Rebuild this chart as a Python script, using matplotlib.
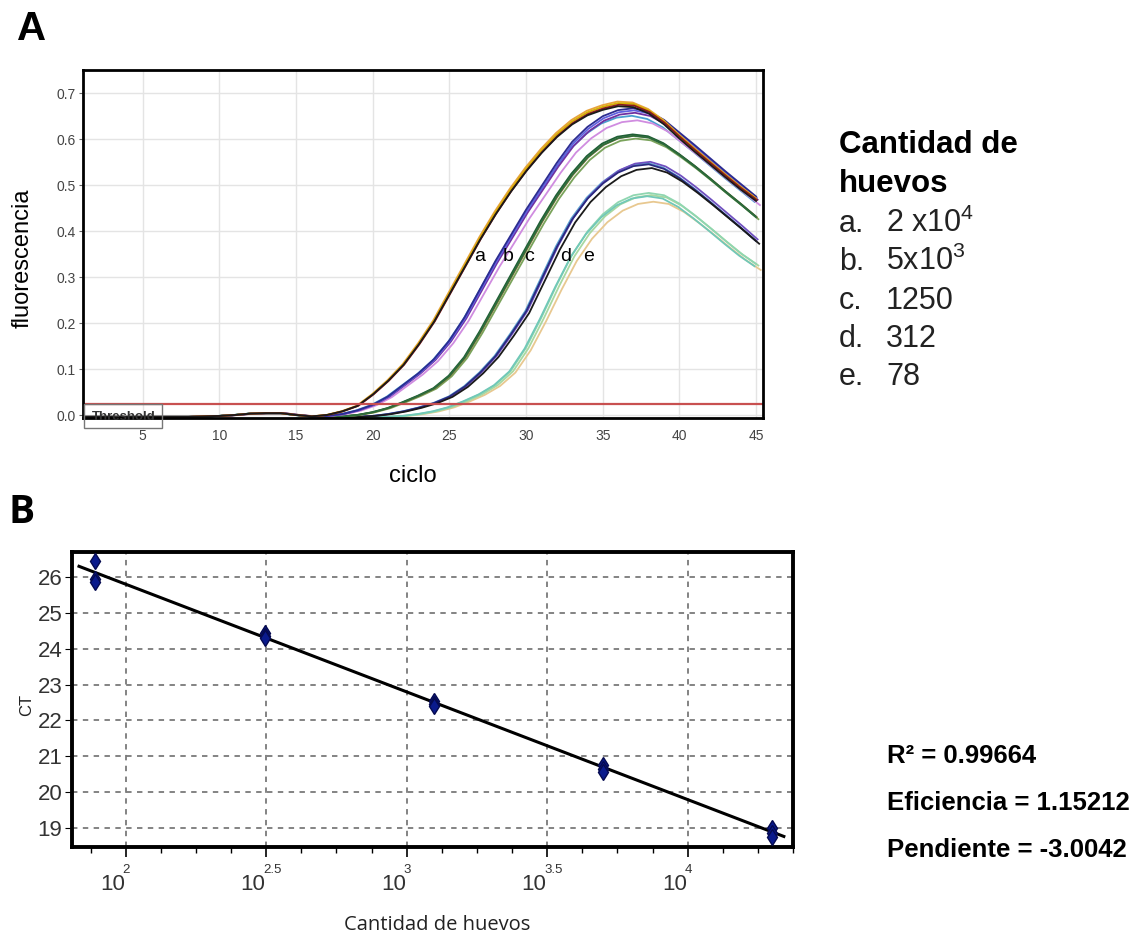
import numpy as np
import matplotlib
matplotlib.use("Agg")
import matplotlib.pyplot as plt
from matplotlib import transforms
from matplotlib.patches import Rectangle

plt.rcParams['font.family'] = ['Liberation Sans', 'DejaVu Sans']
plt.rcParams['mathtext.fontset'] = 'custom'
plt.rcParams['mathtext.rm'] = 'Liberation Sans'

W, H = 1140, 938

# ---- panel A: amplification curves (fluorescence per cycle) ----
cycles = np.arange(1, 46)
baseline = [-0.004, -0.004, -0.004, -0.004, -0.004, -0.004, -0.004, -0.004,
            -0.003, -0.002, 0.0, 0.003, 0.004, 0.004, 0.0, -0.003]
tail_a = [0.0, 0.008, 0.02, 0.045, 0.075, 0.11, 0.155, 0.205, 0.265, 0.325,
          0.385, 0.44, 0.49, 0.535, 0.575, 0.61, 0.638, 0.658, 0.67, 0.678,
          0.676, 0.662, 0.638, 0.607, 0.578, 0.55, 0.522, 0.495, 0.47]
tail_b = [-0.002, 0.002, 0.01, 0.022, 0.04, 0.065, 0.09, 0.12, 0.16, 0.21,
          0.27, 0.33, 0.385, 0.44, 0.49, 0.54, 0.585, 0.617, 0.64, 0.653,
          0.657, 0.65, 0.632, 0.605, 0.578, 0.55, 0.522, 0.495, 0.468]
tail_c = [-0.004, -0.003, 0.0, 0.006, 0.015, 0.028, 0.042, 0.058, 0.085, 0.125,
          0.18, 0.24, 0.3, 0.36, 0.42, 0.475, 0.522, 0.56, 0.587, 0.602,
          0.607, 0.603, 0.588, 0.565, 0.54, 0.513, 0.485, 0.458, 0.43]
tail_d = [-0.005, -0.005, -0.004, -0.002, 0.002, 0.008, 0.016, 0.026, 0.04, 0.062,
          0.092, 0.128, 0.175, 0.225, 0.295, 0.365, 0.425, 0.47, 0.503, 0.527,
          0.541, 0.545, 0.535, 0.515, 0.49, 0.463, 0.435, 0.407, 0.378]
tail_e = [-0.006, -0.006, -0.005, -0.005, -0.004, -0.002, 0.002, 0.008, 0.017, 0.03,
          0.045, 0.065, 0.095, 0.145, 0.21, 0.28, 0.345, 0.395, 0.432, 0.458,
          0.473, 0.478, 0.473, 0.455, 0.43, 0.403, 0.375, 0.348, 0.325]

# replicate colours, amplitude factors and small cycle offsets per dilution
reps_a = [('#e8a33d', 1.005, -0.05), ('#d4b000', 1.0, 0.0), ('#8b1a1a', 0.995, 0.05), ('#1a1a1a', 0.99, 0.0)]
reps_b = [('#4aa0d0', 0.99, -0.1), ('#d08ce0', 0.975, 0.25), ('#7030a0', 1.0, 0.1),
          ('#6060e0', 1.008, 0.05), ('#2c2c90', 1.015, 0.0)]
reps_c = [('#7aa35b', 0.99, 0.15), ('#8a7a3a', 1.0, 0.05), ('#1f5f35', 1.005, -0.05), ('#2d6b3c', 1.0, 0.0)]
reps_d = [('#5aa0d0', 1.005, -0.05), ('#7050c0', 1.01, 0.1), ('#2a2a80', 1.0, 0.0), ('#1a1a1a', 0.985, 0.2)]
reps_e = [('#e8c890', 0.97, 0.3), ('#a8d8a0', 1.0, 0.15), ('#8fd6b0', 1.01, 0.0), ('#70c8b8', 0.995, -0.1)]
threshold = 0.024
curve_labels = ['a', 'b', 'c', 'd', 'e']
label_x = [27.0, 28.8, 30.2, 32.6, 34.1]

legend_title = ['Cantidad de', 'huevos']
legend_items = ['2 x10$^{4}$', '5x10$^{3}$', '1250', '312', '78']

# ---- panel B: standard curve ----
huevos = [78, 312, 1250, 5000, 20000]
ct_values = [[26.45, 25.95, 25.85],
             [24.45, 24.35, 24.3],
             [22.55, 22.45, 22.4],
             [20.75, 20.65, 20.55],
             [19.0, 18.85, 18.75]]
slope = -3.0042
intercept = 31.81
fit_range = [68.2, 22000]
stats_text = ['R² = 0.99664', 'Eficiencia = 1.15212', 'Pendiente = -3.0042']
exp_ticks = [2, 2.5, 3, 3.5, 4]
exp_labels = ['2', '2.5', '3', '3.5', '4']

fig = plt.figure(figsize=(W / 100, H / 100), dpi=100)


def fx(px):
    return px / W


def fy(py):
    return 1 - py / H


# ================= panel A =================
ax = fig.add_axes([fx(83), fy(418), fx(763) - fx(83), fy(70) - fy(418)])
for tail, reps in [(tail_e, reps_e), (tail_d, reps_d), (tail_c, reps_c),
                   (tail_b, reps_b), (tail_a, reps_a)]:
    vals = np.array(baseline + tail)
    for col, amp, dx in reps:
        y = np.where(vals > 0, vals * amp, vals)
        ax.plot(cycles + dx, y, color=col, lw=1.3)
ax.axhline(threshold, color='#c85050', lw=1.6)

ax.set_xlim(1.1, 45.45)
ax.set_ylim(-0.0065, 0.75)
ax.set_xticks([5, 10, 15, 20, 25, 30, 35, 40, 45])
ax.set_yticks([0.0, 0.1, 0.2, 0.3, 0.4, 0.5, 0.6, 0.7])
ax.set_yticklabels(['0.0', '0.1', '0.2', '0.3', '0.4', '0.5', '0.6', '0.7'])
ax.grid(True, color='#e4e4e4', lw=1)
ax.set_axisbelow(True)
ax.tick_params(axis='x', length=0, pad=8, labelsize=10, labelcolor='#444444')
ax.tick_params(axis='y', length=3, pad=2, labelsize=10, labelcolor='#444444', color='#666666')
for s in ax.spines.values():
    s.set_linewidth(2)
    s.set_color('black')

# threshold box
ax.add_patch(Rectangle((1.15, -0.028), 5.1, 0.052, fill=False, ec='#777777', lw=1,
                       clip_on=False, zorder=5))
ax.text(3.75, -0.0035, 'Threshold', ha='center', va='center', fontsize=9.5,
        fontweight='bold', color='#333333', zorder=10, clip_on=False)

for lab, xl in zip(curve_labels, label_x):
    ax.text(xl, 0.345, lab, ha='center', va='center', fontsize=14, color='black')

fig.text(fx(17), fy(40), 'A', fontsize=29, fontweight='bold', va='baseline', ha='left')
fig.text(fx(23), fy(258), 'fluorescencia', rotation=90, fontsize=17, ha='center', va='center')
fig.text(fx(413), fy(482), 'ciclo', fontsize=17, ha='center', va='baseline')

fig.text(fx(839), fy(153), legend_title[0], fontsize=22.5, fontweight='bold', va='baseline')
fig.text(fx(839), fy(192), legend_title[1], fontsize=22.5, fontweight='bold', va='baseline')
for i, (lab, item) in enumerate(zip(curve_labels, legend_items)):
    yb = 232 + i * 38.3
    fig.text(fx(839), fy(yb), lab + '.', fontsize=22, va='baseline', color='#222222')
    fig.text(fx(886), fy(yb), item, fontsize=22, va='baseline', color='#222222')

# ================= panel B =================
ax2 = fig.add_axes([fx(72), fy(847), fx(793) - fx(72), fy(552) - fy(847)])
ax2.set_xscale('log')
xf = np.array(fit_range)
ax2.plot(xf, slope * np.log10(xf) + intercept, color='black', lw=2.2, zorder=3)
for h, cts in zip(huevos, ct_values):
    ax2.plot([h] * len(cts), cts, linestyle='none', marker='d', ms=8,
             mfc='#0a1a8c', mec='#050a50', mew=1, zorder=4)

ax2.set_xlim(64.4, 23190)
ax2.set_ylim(18.47, 26.7)
ax2.set_yticks([19, 20, 21, 22, 23, 24, 25, 26])
ax2.set_xticks([10 ** e for e in exp_ticks])
ax2.set_xticklabels([])
minor = [10 ** (k / 8) for k in range(15, 36) if k % 4 != 0]
ax2.set_xticks(minor, minor=True)
ax2.xaxis.set_minor_formatter(plt.NullFormatter())
ax2.grid(True, which='major', color='#7a7a7a', lw=1.3, linestyle=(0, (3, 3)))
ax2.tick_params(axis='x', which='major', length=7, width=1.2)
ax2.tick_params(axis='x', which='minor', length=4, width=1)
ax2.tick_params(axis='y', length=5, pad=2, labelcolor='#333333')
for t in ax2.get_yticklabels():
    t.set_family(['Liberation Sans Narrow', 'Liberation Sans'])
    t.set_fontsize(16)
for s in ax2.spines.values():
    s.set_linewidth(2.8)
    s.set_color('black')

base_tr = transforms.blended_transform_factory(ax2.transData, ax2.transAxes)
for e, el in zip(exp_ticks, exp_labels):
    tr_ten = transforms.offset_copy(base_tr, fig=fig, x=-1, y=-43, units='dots')
    tr_exp = transforms.offset_copy(base_tr, fig=fig, x=-3, y=-26, units='dots')
    ax2.text(10 ** e, 0, '10', transform=tr_ten, ha='right', va='baseline', fontsize=16,
             color='#333333', family=['Liberation Sans Narrow', 'Liberation Sans'])
    ax2.text(10 ** e, 0, el, transform=tr_exp, ha='left', va='baseline', fontsize=9.5,
             color='#333333', family=['Liberation Sans Narrow', 'Liberation Sans'])

fig.text(fx(8), fy(523), 'B', fontsize=28, fontweight='bold', va='baseline', ha='left',
         family=['Open Sans', 'Liberation Sans'])
fig.text(fx(27), fy(705), 'CT', rotation=90, fontsize=12, ha='center', va='center', color='#222222')
fig.text(fx(437), fy(925), 'Cantidad de huevos', fontsize=14.5, ha='center', va='center',
         family=['Open Sans', 'Liberation Sans'], color='#222222')

for i, s in enumerate(stats_text):
    fig.text(fx(887), fy(763 + i * 47), s, fontsize=18.5, fontweight='bold', va='baseline')

fig.savefig('out.png', dpi=100)
